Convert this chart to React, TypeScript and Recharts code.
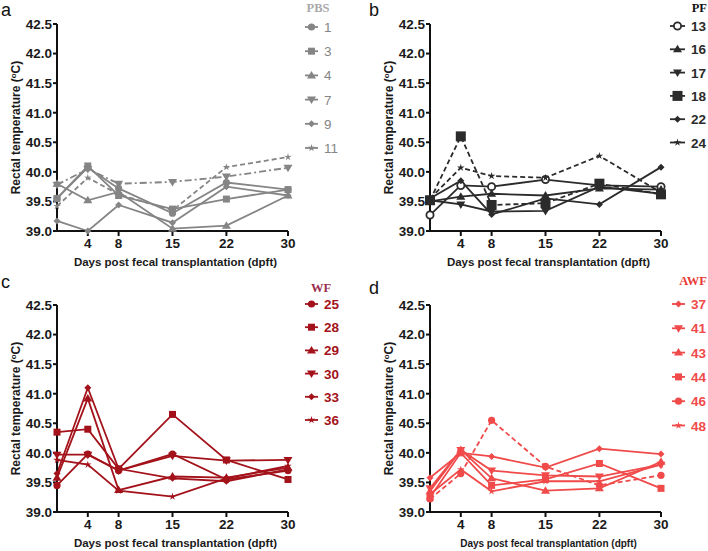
import React from "react";
import { LineChart, Line, XAxis, YAxis } from "recharts";

const days = [0, 4, 8, 15, 22, 30];
const xTicks = [4, 8, 15, 22, 30];
const yTicks = [39, 39.5, 40, 40.5, 41, 41.5, 42, 42.5];

// PBS group
const pbs1 = [39.55, 40.07, 39.72, 39.3, 39.82, 39.7];
const pbs3 = [39.55, 40.1, 39.6, 39.37, 39.54, 39.7];
const pbs4 = [39.8, 39.52, 39.66, 39.04, 39.09, 39.6];
const pbs7 = [39.78, 40.05, 39.8, 39.83, 39.92, 40.07];
const pbs9 = [39.17, 39.0, 39.44, 39.14, 39.75, 39.6];
const pbs11 = [39.42, 39.9, 39.62, 39.35, 40.08, 40.25];

// PF group
const pf13 = [39.27, 39.77, 39.75, 39.87, 39.77, 39.75];
const pf16 = [39.5, 39.58, 39.63, 39.6, 39.72, 39.7];
const pf17 = [39.52, 39.45, 39.33, 39.34, 39.75, 39.63];
const pf18 = [39.52, 40.6, 39.44, 39.47, 39.8, 39.62];
const pf22 = [39.55, 39.85, 39.28, 39.55, 39.45, 40.08];
const pf24 = [39.55, 40.07, 39.93, 39.9, 40.27, 39.65];

// WF group
const wf25 = [39.45, 39.98, 39.7, 39.98, 39.55, 39.7];
const wf28 = [40.35, 40.4, 39.73, 40.65, 39.88, 39.55];
const wf29 = [39.58, 40.92, 39.37, 39.6, 39.58, 39.75];
const wf30 = [39.97, 39.97, 39.7, 39.95, 39.87, 39.88];
const wf33 = [39.65, 41.1, 39.73, 39.57, 39.52, 39.72];
const wf36 = [39.88, 39.8, 39.36, 39.26, 39.57, 39.78];

// AWF group
const awf37 = [39.58, 40.0, 39.94, 39.75, 40.07, 39.98];
const awf41 = [39.4, 40.05, 39.7, 39.62, 39.6, 39.8];
const awf43 = [39.35, 40.05, 39.57, 39.36, 39.4, 39.85];
const awf44 = [39.25, 40.0, 39.45, 39.55, 39.82, 39.4];
const awf46 = [39.22, 39.65, 40.55, 39.77, 39.45, 39.62];
const awf48 = [39.3, 39.72, 39.35, 39.52, 39.52, 39.8];

type Shape = "circle" | "open" | "square" | "bigsquare" | "up" | "down" | "diamond" | "star";

interface Series {
  name: string;
  values: number[];
  shape: Shape;
  dash?: string;
}

interface PanelDef {
  letter: string;
  left: number;
  top: number;
  letterX: number;
  letterY: number;
  color: string;
  title: string;
  titleColor: string;
  titleX: number;
  titleY: number;
  titleAnchor: "middle" | "end";
  labelBold: boolean;
  mx1: number;
  mx2: number;
  labelX: number;
  rowY: number;
  rowStep: number;
  xTitleSize: number;
  series: Series[];
}

const FONT = "'Liberation Sans', Arial, sans-serif";

function Marker({ shape, cx, cy, color }: { shape: Shape; cx: number; cy: number; color: string }) {
  switch (shape) {
    case "circle":
      return <circle cx={cx} cy={cy} r={3.6} fill={color} />;
    case "open":
      return <circle cx={cx} cy={cy} r={3.6} fill="#fff" stroke={color} strokeWidth={1.8} />;
    case "square":
      return <rect x={cx - 3.5} y={cy - 3.5} width={7} height={7} fill={color} />;
    case "bigsquare":
      return <rect x={cx - 5} y={cy - 5} width={10} height={10} fill={color} />;
    case "up":
      return <polygon points={`${cx},${cy - 4.5} ${cx + 4.5},${cy + 3} ${cx - 4.5},${cy + 3}`} fill={color} />;
    case "down":
      return <polygon points={`${cx},${cy + 4.5} ${cx + 4.5},${cy - 3} ${cx - 4.5},${cy - 3}`} fill={color} />;
    case "diamond":
      return <polygon points={`${cx},${cy - 3.5} ${cx + 3.5},${cy} ${cx},${cy + 3.5} ${cx - 3.5},${cy}`} fill={color} />;
    case "star": {
      const pts: string[] = [];
      for (let i = 0; i < 10; i++) {
        const a = -Math.PI / 2 + (i * Math.PI) / 5;
        const r = i % 2 === 0 ? 4 : 1.4;
        pts.push(`${cx + r * Math.cos(a)},${cy + r * Math.sin(a)}`);
      }
      return <polygon points={pts.join(" ")} fill={color} />;
    }
  }
  return null;
}

const panels: PanelDef[] = [
  {
    letter: "a", left: 0, top: 0, letterX: 1, letterY: 16,
    color: "#858585", title: "PBS", titleColor: "#a9a9a9", titleX: 318, titleY: 12, titleAnchor: "middle",
    labelBold: false, mx1: 305, mx2: 318, labelX: 324, rowY: 27, rowStep: 24.2, xTitleSize: 11.5,
    series: [
      { name: "1", values: pbs1, shape: "circle" },
      { name: "3", values: pbs3, shape: "square" },
      { name: "4", values: pbs4, shape: "up" },
      { name: "7", values: pbs7, shape: "down", dash: "7 3 2 3" },
      { name: "9", values: pbs9, shape: "diamond" },
      { name: "11", values: pbs11, shape: "star", dash: "5 3" },
    ],
  },
  {
    letter: "b", left: 373, top: 0, letterX: 369, letterY: 16,
    color: "#2b2b2b", title: "PF", titleColor: "#111", titleX: 334, titleY: 12, titleAnchor: "end",
    labelBold: true, mx1: 297, mx2: 312, labelX: 318, rowY: 26, rowStep: 23.3, xTitleSize: 11.5,
    series: [
      { name: "13", values: pf13, shape: "open" },
      { name: "16", values: pf16, shape: "up" },
      { name: "17", values: pf17, shape: "down" },
      { name: "18", values: pf18, shape: "bigsquare", dash: "5 3" },
      { name: "22", values: pf22, shape: "diamond" },
      { name: "24", values: pf24, shape: "star", dash: "5 3" },
    ],
  },
  {
    letter: "c", left: 0, top: 281, letterX: 1, letterY: 288,
    color: "#a3121a", title: "WF", titleColor: "#9b2c4c", titleX: 321, titleY: 11, titleAnchor: "middle",
    labelBold: true, mx1: 305, mx2: 318, labelX: 324, rowY: 23, rowStep: 23.2, xTitleSize: 11.5,
    series: [
      { name: "25", values: wf25, shape: "circle" },
      { name: "28", values: wf28, shape: "square" },
      { name: "29", values: wf29, shape: "up" },
      { name: "30", values: wf30, shape: "down" },
      { name: "33", values: wf33, shape: "diamond" },
      { name: "36", values: wf36, shape: "star" },
    ],
  },
  {
    letter: "d", left: 373, top: 281, letterX: 369, letterY: 294,
    color: "#f04a4a", title: "AWF", titleColor: "#e83a36", titleX: 334, titleY: 4, titleAnchor: "end",
    labelBold: true, mx1: 299, mx2: 312, labelX: 318, rowY: 23, rowStep: 24.3, xTitleSize: 10,
    series: [
      { name: "37", values: awf37, shape: "diamond" },
      { name: "41", values: awf41, shape: "down" },
      { name: "43", values: awf43, shape: "up" },
      { name: "44", values: awf44, shape: "square" },
      { name: "46", values: awf46, shape: "circle", dash: "5 3" },
      { name: "48", values: awf48, shape: "star" },
    ],
  },
];

const W = 354;
const H = 270;
const PLOT_LEFT = 57;
const PLOT_RIGHT = 288;
const PLOT_TOP = 24;
const PLOT_BOTTOM = 231;

function Panel({ p }: { p: PanelDef }) {
  const rows = days.map((d, i) => {
    const row: Record<string, number> = { day: d };
    p.series.forEach((s) => {
      row[s.name] = s.values[i];
    });
    return row;
  });
  const tickStyle = { fontSize: 13.5, fontWeight: 700, fill: "#1a1a1a", fontFamily: FONT };
  const midY = (PLOT_TOP + PLOT_BOTTOM) / 2;
  return (
    <div style={{ position: "absolute", left: p.left, top: p.top, width: W, height: H }}>
      <LineChart
        width={W}
        height={H}
        data={rows}
        margin={{ top: PLOT_TOP, right: W - PLOT_RIGHT, bottom: 0, left: 0 }}
      >
        <XAxis
          dataKey="day"
          type="number"
          domain={[0, 30]}
          ticks={xTicks}
          height={H - PLOT_BOTTOM}
          tick={tickStyle}
          tickSize={5}
          tickMargin={2}
          axisLine={{ stroke: "#111", strokeWidth: 2 }}
          tickLine={{ stroke: "#111", strokeWidth: 2 }}
        />
        <YAxis
          type="number"
          domain={[39, 42.5]}
          ticks={yTicks}
          width={PLOT_LEFT}
          tick={tickStyle}
          tickFormatter={(v: number) => v.toFixed(1)}
          tickSize={4}
          tickMargin={1}
          axisLine={{ stroke: "#111", strokeWidth: 2 }}
          tickLine={{ stroke: "#111", strokeWidth: 2 }}
        />
        {p.series.map((s) => (
          <Line
            key={s.name}
            dataKey={s.name}
            stroke={p.color}
            strokeWidth={1.8}
            strokeDasharray={s.dash}
            isAnimationActive={false}
            dot={(props: any) => (
              <Marker key={`${s.name}-${props.index}`} shape={s.shape} cx={props.cx} cy={props.cy} color={p.color} />
            )}
            activeDot={false}
          />
        ))}
      </LineChart>
      <svg
        width={W}
        height={H}
        style={{ position: "absolute", left: 0, top: 0, overflow: "visible", pointerEvents: "none" }}
      >
        <text
          transform={`translate(20, ${midY}) rotate(-90)`}
          textAnchor="middle"
          fontFamily={FONT}
          fontWeight={700}
          fontSize={12}
          fill="#1a1a1a"
        >
          Rectal temperature (<tspan dy={-4} fontSize={8}>o</tspan>
          <tspan dy={4}>C)</tspan>
        </text>
        <text
          x={(PLOT_LEFT + PLOT_RIGHT) / 2 + 3}
          y={266}
          textAnchor="middle"
          fontFamily={FONT}
          fontWeight={700}
          fontSize={p.xTitleSize}
          fill="#1a1a1a"
        >
          Days post fecal transplantation (dpft)
        </text>
        <text
          x={p.titleX}
          y={p.titleY}
          textAnchor={p.titleAnchor}
          fontFamily="'Liberation Serif', 'Times New Roman', serif"
          fontWeight={700}
          fontSize={12.5}
          fill={p.titleColor}
        >
          {p.title}
        </text>
        {p.series.map((s, i) => {
          const y = p.rowY + i * p.rowStep;
          return (
            <g key={s.name}>
              <line x1={p.mx1} x2={p.mx2} y1={y} y2={y} stroke={p.color} strokeWidth={1.8} />
              <Marker shape={s.shape} cx={(p.mx1 + p.mx2) / 2} cy={y} color={p.color} />
              <text
                x={p.labelX}
                y={y + 5}
                fontFamily={FONT}
                fontWeight={p.labelBold ? 700 : 400}
                fontSize={13.5}
                fill={p.color}
              >
                {s.name}
              </text>
            </g>
          );
        })}
      </svg>
    </div>
  );
}

export default function App() {
  return (
    <div
      style={{
        position: "absolute",
        left: 0,
        top: 0,
        width: 708,
        height: 551,
        overflow: "hidden",
        background: "#fff",
      }}
    >
      {panels.map((p) => (
        <Panel key={p.letter} p={p} />
      ))}
      <svg width={708} height={551} style={{ position: "absolute", left: 0, top: 0, pointerEvents: "none" }}>
        {panels.map((p) => (
          <text key={p.letter} x={p.letterX} y={p.letterY} fontFamily={FONT} fontSize={18} fill="#111">
            {p.letter}
          </text>
        ))}
      </svg>
    </div>
  );
}
